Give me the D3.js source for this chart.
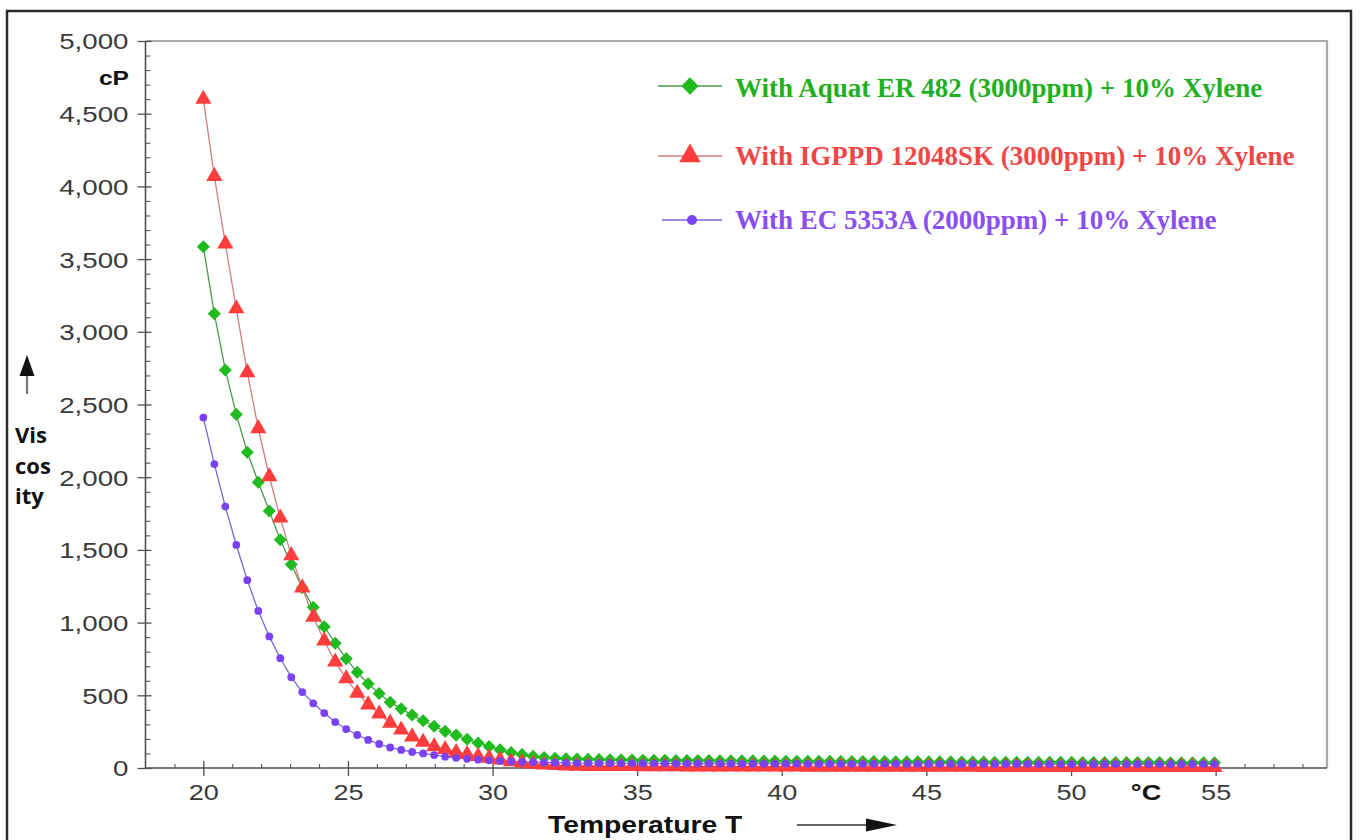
<!DOCTYPE html>
<html>
<head>
<meta charset="utf-8">
<script src="https://cdn.jsdelivr.net/npm/d3@7/dist/d3.min.js"></script>
<style>
  html, body { margin: 0; padding: 0; background: #fff; }
  svg { display: block; }
</style>
</head>
<body>
<svg id="chart" width="1362" height="840"></svg>
<script>
// Temperature readings (°C)
const temperature = [
  20.00, 20.38, 20.76, 21.14, 21.52, 21.90, 22.28, 22.66, 23.04, 23.42,
  23.80, 24.18, 24.56, 24.94, 25.32, 25.70, 26.08, 26.46, 26.84, 27.22,
  27.60, 27.98, 28.36, 28.74, 29.12, 29.50, 29.88, 30.26, 30.64, 31.02,
  31.40, 31.78, 32.16, 32.54, 32.92, 33.30, 33.68, 34.06, 34.44, 34.82,
  35.20, 35.58, 35.96, 36.34, 36.72, 37.10, 37.48, 37.86, 38.24, 38.62,
  39.00, 39.38, 39.76, 40.14, 40.52, 40.90, 41.28, 41.66, 42.04, 42.42,
  42.80, 43.18, 43.56, 43.94, 44.32, 44.70, 45.08, 45.46, 45.84, 46.22,
  46.60, 46.98, 47.36, 47.74, 48.12, 48.50, 48.88, 49.26, 49.64, 50.02,
  50.40, 50.78, 51.16, 51.54, 51.92, 52.30, 52.68, 53.06, 53.44, 53.82,
  54.20, 54.58, 54.96
];

// Viscosity (cP) with Aquat ER 482 (3000 ppm) + 10% xylene
const aquatER482 = [
  3585, 3125, 2738, 2432, 2172, 1965, 1768, 1570, 1400, 1240,
  1105, 972, 858, 752, 658, 580, 512, 452, 408, 364,
  325, 287, 252, 226, 198, 172, 148, 126, 106, 92,
  80, 72, 67, 64, 62, 60, 58, 57, 56, 55,
  54, 53, 53, 52, 52, 51, 51, 50, 50, 49,
  49, 48, 48, 47, 47, 46, 46, 46, 45, 45,
  44, 44, 44, 43, 43, 43, 42, 42, 42, 41,
  41, 41, 40, 40, 40, 40, 39, 39, 39, 39,
  38, 38, 38, 38, 37, 37, 37, 37, 36, 36,
  36, 36, 36
];

// Viscosity (cP) with IGPPD 12048SK (3000 ppm) + 10% xylene
const igppd12048SK = [
  4600, 4070, 3605, 3160, 2720, 2335, 2005, 1720, 1462, 1240,
  1038, 875, 730, 615, 515, 435, 372, 310, 262, 215,
  178, 148, 128, 108, 94, 80, 68, 56, 44, 36,
  28, 22, 18, 15, 13, 12, 12, 11, 11, 11,
  10, 10, 10, 10, 9, 9, 9, 9, 9, 8,
  8, 8, 8, 8, 8, 7, 7, 7, 7, 7,
  7, 7, 6, 6, 6, 6, 6, 6, 6, 6,
  6, 5, 5, 5, 5, 5, 5, 5, 5, 5,
  5, 5, 5, 5, 5, 5, 5, 5, 5, 5,
  5, 5, 5
];

// Viscosity (cP) with EC 5353A (2000 ppm) + 10% xylene
const ec5353A = [
  2410, 2090, 1798, 1534, 1292, 1080, 905, 755, 625, 522,
  445, 378, 316, 268, 227, 193, 165, 141, 124, 110,
  100, 89, 78, 70, 63, 57, 52, 48, 45, 42,
  40, 38, 36, 35, 34, 34, 33, 33, 33, 32,
  32, 32, 32, 31, 31, 31, 31, 31, 30, 30,
  30, 30, 30, 30, 30, 29, 29, 29, 29, 29,
  29, 29, 29, 29, 28, 28, 28, 28, 28, 28,
  28, 28, 28, 28, 28, 28, 27, 27, 27, 27,
  27, 27, 27, 27, 27, 27, 27, 27, 27, 27,
  27, 27, 27
];

const xTickValues = [20, 25, 30, 35, 40, 45, 50, 55];
const yTickValues = [0, 500, 1000, 1500, 2000, 2500, 3000, 3500, 4000, 4500, 5000];
const seriesNames = [
  "With Aquat ER 482 (3000ppm) + 10% Xylene",
  "With IGPPD 12048SK (3000ppm) + 10% Xylene",
  "With EC 5353A (2000ppm) + 10% Xylene"
];

const svg = d3.select("#chart");
const plotLeft = 145.5, plotRight = 1327, plotTop = 41, plotBottom = 768;

const x = d3.scaleLinear().domain([18, 58.85]).range([plotLeft, plotRight]);
const y = d3.scaleLinear().domain([0, 5000]).range([plotBottom, plotTop]);

// outer frame
svg.append("rect").attr("x", 7).attr("y", 11).attr("width", 1344).attr("height", 850)
  .attr("fill", "#fff").attr("stroke", "#2b2b2b").attr("stroke-width", 2.5);

// top and right border of the plotting area
svg.append("path")
  .attr("d", `M${plotLeft},${plotTop}H${plotRight}V${plotBottom}`)
  .attr("fill", "none").attr("stroke", "#ababab").attr("stroke-width", 2.2);

const SX = 1.23; // horizontal stretch of the axis lettering

// ---- y axis
const yMinor = d3.range(0, 5001, 100).filter(v => v % 500 !== 0);
svg.append("g").attr("transform", `translate(${plotLeft},0)`)
  .call(d3.axisRight(y).tickValues(yMinor).tickSize(5).tickFormat(""))
  .call(g => g.select(".domain").remove())
  .call(g => g.selectAll("line").attr("stroke", "#555").attr("stroke-width", 1.1));

const yAxis = svg.append("g").attr("transform", `translate(${plotLeft},0)`)
  .call(d3.axisLeft(y).tickValues(yTickValues).tickSize(8).tickFormat(d3.format(",")));
yAxis.select(".domain").attr("stroke", "#505050").attr("stroke-width", 1.6).attr("d", `M0,${plotTop}V${plotBottom}`);
yAxis.selectAll(".tick line").attr("x1", 6).attr("x2", -8).attr("stroke", "#505050").attr("stroke-width", 1.3);
yAxis.selectAll(".tick text")
  .attr("x", 0).attr("dy", "0.36em")
  .attr("transform", `translate(-17,0) scale(1.26,1)`)
  .attr("font-family", "'Liberation Sans', Arial, sans-serif")
  .attr("font-size", 22).attr("fill", "#3a3a3a");

// ---- x axis
const xMinor = d3.range(19, 59).filter(v => v % 5 !== 0);
svg.append("g").attr("transform", `translate(0,${plotBottom})`)
  .call(d3.axisTop(x).tickValues(xMinor).tickSize(4).tickFormat(""))
  .call(g => g.select(".domain").remove())
  .call(g => g.selectAll("line").attr("stroke", "#555").attr("stroke-width", 1.1));

const xAxis = svg.append("g").attr("transform", `translate(0,${plotBottom})`)
  .call(d3.axisBottom(x).tickValues(xTickValues).tickSize(8));
xAxis.select(".domain").attr("stroke", "#505050").attr("stroke-width", 1.6).attr("d", `M${plotLeft},0H${plotRight}`);
xAxis.selectAll(".tick line").attr("y1", -7).attr("y2", 8).attr("stroke", "#505050").attr("stroke-width", 1.3);
xAxis.selectAll(".tick text")
  .attr("y", 0).attr("dy", 0)
  .attr("transform", `translate(0,32) scale(${SX},1)`)
  .attr("font-family", "'Liberation Sans', Arial, sans-serif")
  .attr("font-size", 22).attr("fill", "#3a3a3a");

// ---- stretched bold labels
function label(txt, tx, ty, size, anchor) {
  svg.append("text")
    .attr("transform", `translate(${tx},${ty}) scale(${SX},1)`)
    .attr("text-anchor", anchor || "start")
    .attr("font-family", "'Liberation Sans', Arial, sans-serif")
    .attr("font-weight", "bold").attr("font-size", size)
    .attr("fill", "#111").text(txt);
}
label("cP", 129, 85, 20, "end");
label("°C", 1146, 800, 22, "middle");
label("Temperature T", 548, 833, 23, "start");

// axis direction arrows
svg.append("line").attr("x1", 797).attr("x2", 870).attr("y1", 825).attr("y2", 825)
  .attr("stroke", "#333").attr("stroke-width", 1.6);
svg.append("path").attr("d", "M866,818.5L897,825L866,831.5Z").attr("fill", "#111");
svg.append("line").attr("x1", 27).attr("x2", 27).attr("y1", 372).attr("y2", 394)
  .attr("stroke", "#777").attr("stroke-width", 2.2);
svg.append("path").attr("d", "M19.5,376L27,355L34.5,376Z").attr("fill", "#111");

// vertical axis title in stacked pieces
const vt = svg.append("g").attr("font-family", "'Open Sans', sans-serif")
  .attr("font-weight", "bold").attr("font-size", 22).attr("fill", "#111");
vt.append("text").attr("x", 15).attr("y", 443).text("Vis");
vt.append("text").attr("x", 15).attr("y", 474).text("cos");
vt.append("text").attr("x", 15).attr("y", 504).text("ity");

// ---- series
const series = [
  { name: seriesNames[0], values: aquatER482, line: "#4c9a4c", fill: "#1fbb1f", text: "#1fb01f",
    symbol: d3.symbol(d3.symbolSquare, 85), rot: 45, ly: 86, lx0: 658, mx: 690, ty: 97 },
  { name: seriesNames[1], values: igppd12048SK, line: "#cc7f84", fill: "#ff3d3d", text: "#f04646",
    symbol: d3.symbol(d3.symbolTriangle, 115), rot: 0, ly: 156, lx0: 658, mx: 690, ty: 165 },
  { name: seriesNames[2], values: ec5353A, line: "#7a68d8", fill: "#7b42f2", text: "#8a4ef2",
    symbol: null, rot: 0, ly: 220, lx0: 662, mx: 692, ty: 229 }
];

const lineGen = d3.line().x((d, i) => x(temperature[i])).y(d => y(d));
const plot = svg.append("g");

series.forEach(s => {
  plot.append("path").datum(s.values)
    .attr("d", lineGen).attr("fill", "none")
    .attr("stroke", s.line).attr("stroke-width", 1.3);
});

series.forEach(s => {
  const g = plot.append("g");
  if (s.symbol) {
    g.selectAll("path").data(s.values).join("path")
      .attr("d", s.symbol)
      .attr("transform", (d, i) => `translate(${x(temperature[i])},${y(d)}) rotate(${s.rot})`)
      .attr("fill", s.fill);
  } else {
    g.selectAll("circle").data(s.values).join("circle")
      .attr("cx", (d, i) => x(temperature[i])).attr("cy", d => y(d))
      .attr("r", 3.9).attr("fill", s.fill);
  }
});

// ---- legend
const legend = svg.append("g");
series.forEach(s => {
  legend.append("line").attr("x1", s.lx0).attr("x2", 722).attr("y1", s.ly).attr("y2", s.ly)
    .attr("stroke", s.line).attr("stroke-width", 1.6);
  if (s.symbol) {
    const big = s.rot ? d3.symbol(d3.symbolSquare, 150) : d3.symbol(d3.symbolTriangle, 200);
    legend.append("path").attr("d", big)
      .attr("transform", `translate(${s.mx},${s.ly}) rotate(${s.rot})`).attr("fill", s.fill);
  } else {
    legend.append("circle").attr("cx", s.mx).attr("cy", s.ly).attr("r", 5).attr("fill", s.fill);
  }
  legend.append("text").attr("x", 735).attr("y", s.ty)
    .attr("font-family", "'Liberation Serif', 'Times New Roman', serif")
    .attr("font-weight", "bold").attr("font-size", 27)
    .attr("fill", s.text).text(s.name);
});
</script>
</body>
</html>
